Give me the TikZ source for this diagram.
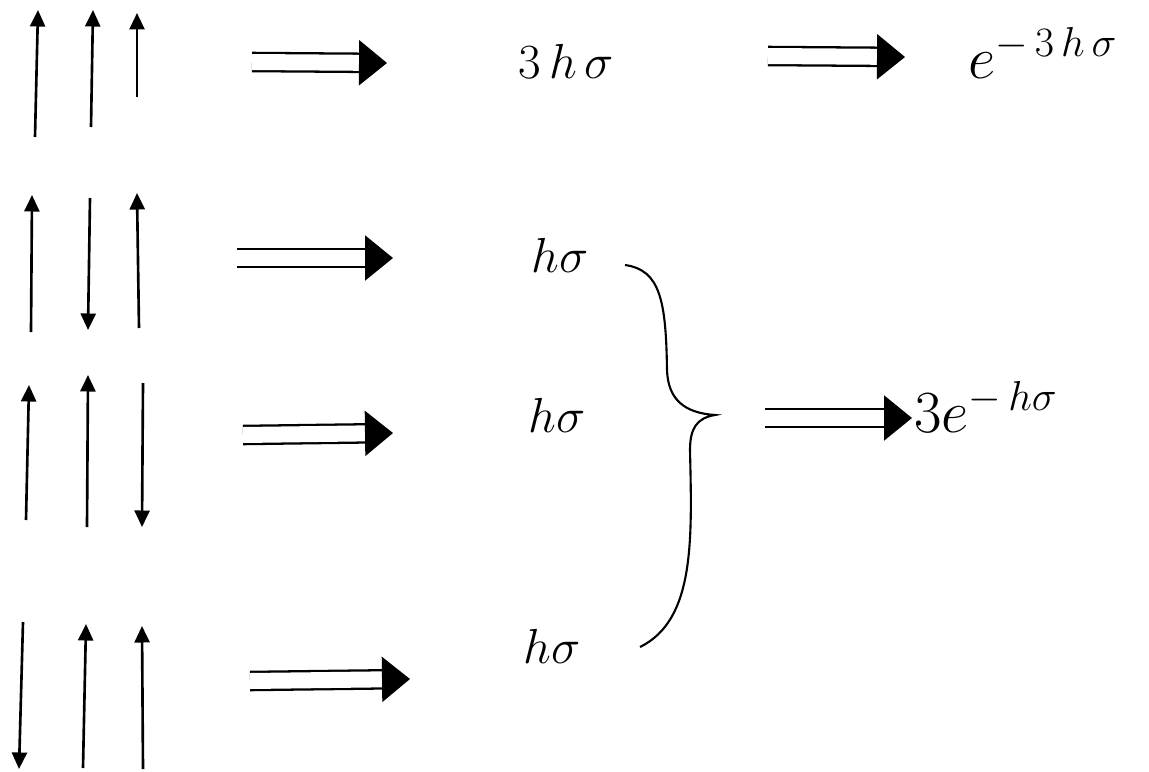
\documentclass[tikz,border=0pt]{standalone}
\usepackage{fix-cm}
\usepackage{amsmath,amssymb}
\usetikzlibrary{arrows.meta}

\tikzset{
  spin/.style={line width=1.5pt, -{Triangle[length=3.3mm,width=3mm]}},
  implies/.style={line width=1.3pt, double, double distance=3.2mm,
    -{Triangle[length=5.6mm,width=9mm]}},
  lbl/.style={inner sep=0pt, anchor=base west, font=\fontsize{28}{32}\selectfont},
  expo/.style={inner sep=0pt, anchor=base west, font=\fontsize{34}{38}\selectfont}
}

\begin{document}
\begin{tikzpicture}[x=0.02cm,y=-0.02cm]
\useasboundingbox (0,0) rectangle (1149,771);
% spins, one row per configuration
\draw[spin] (35,137)--(38,10);
\draw[spin] (91,127)--(93,10);
\draw[spin] (137,97)--(137,13);

\draw[spin] (31,332)--(32,195);
\draw[spin] (90,198)--(88,330);
\draw[spin] (139,328)--(137,193);

\draw[spin] (26,520)--(29,385);
\draw[spin] (87,527)--(88,375);
\draw[spin] (143,383)--(142,527);

\draw[spin] (23,622)--(19,769);
\draw[spin] (83,768)--(86,624);
\draw[spin] (143,769)--(142,626);

% energies
\node[lbl] (en1) at (518,78) {$3\,h\,\sigma$};
\node[lbl] (en2) at (531,272) {$h\sigma$};
\node[lbl] (en3) at (528,432) {$h\sigma$};
\node[lbl] (en4) at (523,663) {$h\sigma$};
\node[expo] (bw1) at (968,78) {$e^{-\,3\,h\,\sigma}$};
\node[expo] (bw2) at (914,432) {$3e^{-\,h\sigma}$};

\coordinate (a1) at (252,62);  \coordinate (b1) at (387,63);
\coordinate (a2) at (237,258); \coordinate (b2) at (393,258);
\coordinate (a3) at (243,435); \coordinate (b3) at (393,433);
\coordinate (a4) at (250,681); \coordinate (b4) at (410,679);
\coordinate (c1) at (768,56);  \coordinate (d1) at (905,57);
\coordinate (c2) at (765,418); \coordinate (d2) at (912,418);
\draw[implies] (a1)--(b1);
\draw[implies] (a2)--(b2);
\draw[implies] (a3)--(b3);
\draw[implies] (a4)--(b4);
\draw[implies] (c1)--(d1);
\draw[implies] (c2)--(d2);

% brace over the three degenerate states
\coordinate (brtop) at (625,265);
\coordinate (brtip) at (715,415);
\coordinate (brbot) at (640,647);
\draw[line width=1.2pt] (brtop) .. controls (660,270) and (666,300) .. (667,370)
  .. controls (668,400) and (685,413) .. (brtip)
  .. controls (697,418) and (690,428) .. (690,450)
  .. controls (692,540) and (695,620) .. (brbot);
\end{tikzpicture}
\end{document}
